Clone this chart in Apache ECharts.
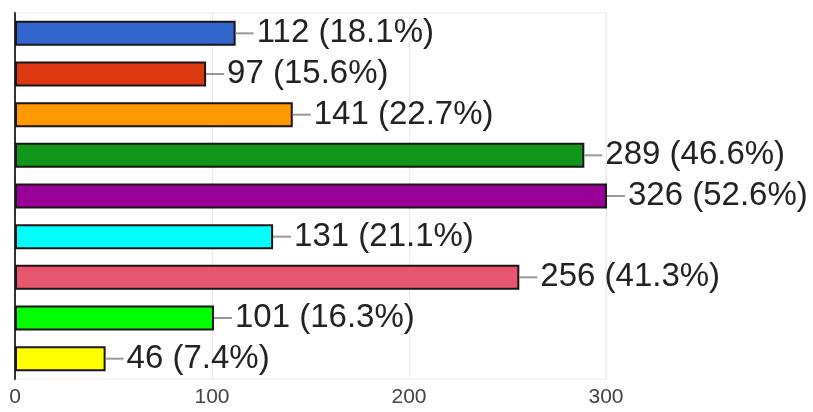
<!DOCTYPE html>
<html>
<head>
    <meta charset="utf-8">
    <title>Responses</title>
    <script src="https://cdn.jsdelivr.net/npm/echarts@6/dist/echarts.min.js"></script>
</head>
<body style="margin:0;background:#fff;">
<div id="main" style="width: 813px;height:412px;"></div>
<script type="text/javascript">
    // answer options (no labels shown on the chart)
    var categories = ['Option 1', 'Option 2', 'Option 3', 'Option 4', 'Option 5', 'Option 6', 'Option 7', 'Option 8', 'Option 9'];
    var counts = [112, 97, 141, 289, 326, 131, 256, 101, 46];
    var percents = ['18.1', '15.6', '22.7', '46.6', '52.6', '21.1', '41.3', '16.3', '7.4'];
    var barColors = ['#3366cc', '#dc3912', '#ff9900', '#109618', '#990099', '#00ffff', '#e8566e', '#00ff00', '#ffff00'];
    var xTicks = [0, 100, 200, 300];

    var myChart = echarts.init(document.getElementById('main'), null, {renderer: 'canvas'});

    var option = {
        animation: false,
        grid: {
            left: 15,
            right: 207,
            top: 13,
            bottom: 33,
            show: true,
            borderColor: '#ebebeb',
            borderWidth: 1
        },
        xAxis: {
            type: 'value',
            min: xTicks[0],
            max: xTicks[xTicks.length - 1],
            interval: 100,
            axisLine: {show: false},
            axisTick: {show: false},
            splitLine: {lineStyle: {color: '#ebebeb', width: 1}},
            axisLabel: {
                fontFamily: 'Liberation Sans',
                fontSize: 21,
                color: '#444',
                margin: 8
            }
        },
        yAxis: {
            type: 'category',
            inverse: true,
            data: categories,
            axisLine: {lineStyle: {color: '#333', width: 2}},
            axisTick: {show: false},
            axisLabel: {show: false},
            splitLine: {show: false}
        },
        series: [{
            type: 'bar',
            barWidth: 25,
            clip: true,
            data: counts.map(function (v, i) {
                return {value: v, itemStyle: {color: barColors[i]}};
            }),
            itemStyle: {
                borderColor: '#1c1414',
                borderWidth: 2
            },
            label: {
                show: true,
                position: 'right',
                distance: 0,
                formatter: function (p) {
                    return '{l| }{v|' + counts[p.dataIndex] + ' (' + percents[p.dataIndex] + '%)}';
                },
                rich: {
                    l: {width: 18, height: 2, backgroundColor: '#999'},
                    v: {fontFamily: 'Liberation Sans', fontSize: 33, color: '#222', padding: [0, 0, 0, 3]}
                }
            }
        }]
    };

    myChart.setOption(option);
</script>
</body>
</html>
